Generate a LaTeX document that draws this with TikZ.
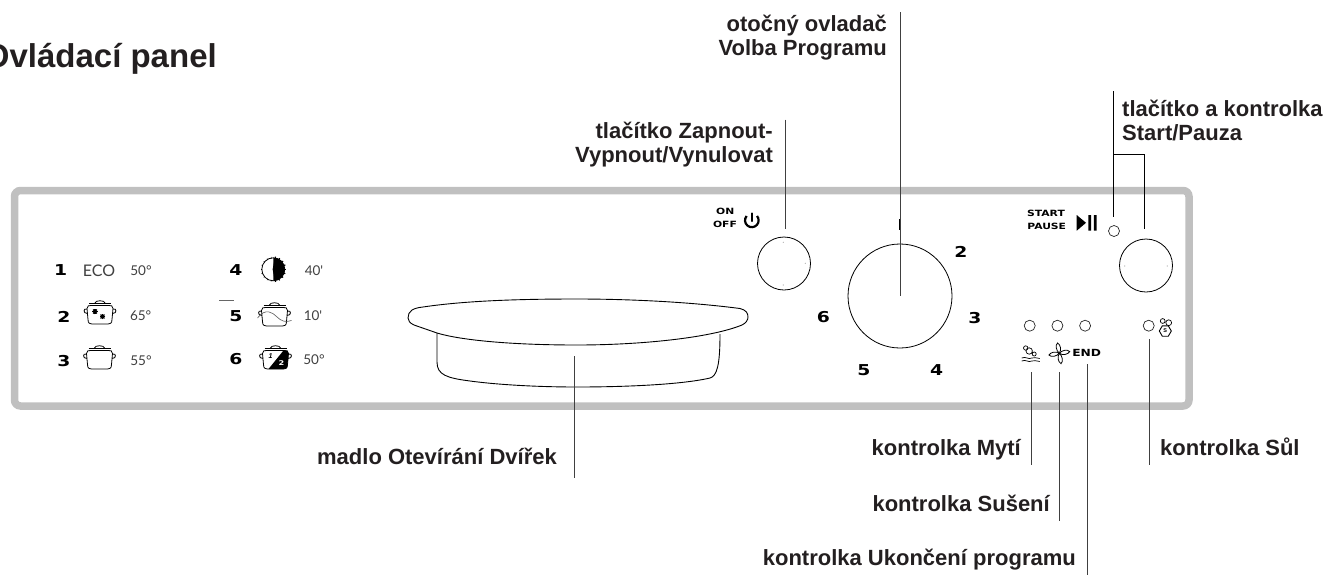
\documentclass[tikz,border=0pt]{standalone}
\usepackage{fontspec}
\usepackage{xcolor}
\setmainfont{Liberation Sans}
\newfontfamily\panelfont[FakeStretch=1.25]{DejaVu Sans}
\newfontfamily\thinfont{Lato}
\usetikzlibrary{calc,positioning,shapes.geometric}
\definecolor{framegray}{HTML}{C0C0C0}
\definecolor{labelink}{HTML}{231F20}

\begin{document}
\begin{tikzpicture}[x=1pt,y=-1pt,
    callout/.style={font=\bfseries\fontsize{22}{24}\selectfont,text=labelink,inner sep=0pt,align=right},
    leader/.style={draw=black!75,line width=0.9pt},
    knob/.style={draw=black,line width=0.8pt,circle,inner sep=0pt,fill=white},
    lamp/.style={draw=black!85,line width=0.7pt,circle,inner sep=0pt,minimum size=11pt},
    digit/.style={font=\panelfont\bfseries\fontsize{15}{15}\selectfont,inner sep=0pt},
    tinycaps/.style={font=\panelfont\bfseries\fontsize{8.6}{9}\selectfont,inner sep=0pt},
    thintext/.style={font=\thinfont\fontsize{13.5}{14}\selectfont,text=black!75,inner sep=0pt},
    icon/.style={line width=0.8pt,black}]

  \useasboundingbox (0,0) rectangle (1332,579);
  \clip (0,0) rectangle (1332,579);

  % Frame
  \draw[framegray,line width=7.5pt,rounded corners=6pt] (14.5,190.5) rectangle (1189,406);
  \node[font=\bfseries\fontsize{33}{36}\selectfont,text=labelink,anchor=base east,inner sep=0pt] (title) at (217,67) {Ovládací panel};

  % Knobs and lamps
  \node[knob,minimum size=53pt] (on-knob) at (784,263.5) {};
  \node[knob,minimum size=104pt] (dial) at (900,296) {};
  \node[knob,minimum size=53pt] (start-knob) at (1146,265.5) {};
  \node[lamp] (start-lamp) at (1114,231) {};
  \node[lamp] (wash-lamp) at (1029.7,325.7) {};
  \node[lamp,right=16pt of wash-lamp] (dry-lamp) {};
  \node[lamp,right=16pt of dry-lamp] (end-lamp) {};
  \node[lamp] (salt-lamp) at (1148.7,325.7) {};
  \fill[black!35] (783.3,242.3) circle (0.6) (805.3,263.3) circle (0.6) (783.3,285) circle (0.6) (1124.7,266) circle (0.6) (1167.3,266) circle (0.6);
  \fill[black] (898.8,219) rectangle (901.2,230);

  % Dial numbers
  \node[digit] (dial-2) at (961,251.7) {2};
  \node[digit] (dial-3) at (975,317.7) {3};
  \node[digit] (dial-4) at (936.7,370) {4};
  \node[digit] (dial-5) at (864,370) {5};
  \node[digit] (dial-6) at (823.3,317) {6};

  % Handle
  \draw[black,line width=0.9pt] (408,318) .. controls (408,311) and (413,308) .. (423,307) .. controls (470,300) and (530,299) .. (577,299) .. controls (630,299) and (690,302) .. (740,308.5) .. controls (746,310) and (748,313) .. (748,317) .. controls (748,320) and (746,323) .. (742,325) .. controls (710,338) and (640,345) .. (577,345) .. controls (510,345) and (460,340) .. (437,333) -- (414,325) .. controls (410,323) and (408,321) .. (408,318) -- cycle;
  \draw[black,line width=0.9pt] (437,333) -- (437,362) .. controls (437,375) and (447,378) .. (470,381) .. controls (500,385) and (540,387) .. (577,387) .. controls (620,387) and (680,385) .. (710,378) .. controls (717,376) and (720,365) .. (720,334);

  % Programmes
  % \pot{<id>}{<pos>}
  \DeclareDocumentCommand \pot { m m }{%
    \begin{scope}[shift={#2},icon]
      \draw (-13,-6) .. controls (-13,-9) and (-11,-9) .. (-9,-9) -- (9,-9) .. controls (11,-9) and (13,-9) .. (13,-6) -- (12,5) .. controls (12,9) and (10,9.5) .. (8,9.5) -- (-8,9.5) .. controls (-10,9.5) and (-12,9) .. (-12,5) -- cycle;
      \draw (13,-5.5) .. controls (17,-6.5) and (17,-1) .. (12.7,-1);
      \draw (-13,-5.5) .. controls (-17,-6.5) and (-17,-1) .. (-12.7,-1);
      \draw (-11,-11.5) -- (11,-11.5);
      \draw (-5,-11.5) .. controls (-5,-14.5) and (5,-14.5) .. (5,-11.5);
      \coordinate (pot-#1) at (0,0);
    \end{scope}
  }
  \node[digit] (num-1) at (60.7,270.5) {1};
  \node[thintext,font=\thinfont\fontsize{16}{16}\selectfont] (eco) at (99,270.7) {ECO};
  \node[thintext] (temp-1) at (141,270.7) {50°};
  \node[digit] (num-2) at (64,316.5) {2};
  \pot{2}{(100,314.5)}
  \node[thintext] (temp-2) at (140.7,316) {65°};
  \node[digit] (num-3) at (64,360.7) {3};
  \pot{3}{(99.5,359.5)}
  \node[thintext] (temp-3) at (141,361) {55°};
  \node[digit] (num-4) at (236,270.5) {4};
  \node[thintext] (time-4) at (314,270.7) {40'};
  \draw[black!60,line width=0.7pt] (219,300) -- (234,300);
  \node[digit] (num-5) at (236,316) {5};
  \pot{5}{(274.5,316.5)}
  \node[thintext] (time-5) at (313,316) {10'};
  \node[digit] (num-6) at (236,359.5) {6};
  \pot{6}{(275.5,359.5)}
  \node[thintext] (temp-6) at (314,360) {50°};

  % Pot details
  \begin{scope}[shift={(pot-2)},black]
    \foreach \a in {0,45,90,135} {
      \draw[line width=1.1pt] (-5,-3)+(\a:2.8) -- +(\a+180:2.8);
      \draw[line width=1.1pt] (2.5,2)+(\a:2.8) -- +(\a+180:2.8);
    }
  \end{scope}
  \draw[black!65,line width=0.6pt] ($(pot-5)+(-17,1.5)$) .. controls ($(pot-5)+(-9,-9)$) and ($(pot-5)+(-2,-4)$) .. ($(pot-5)+(2,0)$) .. controls ($(pot-5)+(7,5)$) and ($(pot-5)+(11,6)$) .. ($(pot-5)+(17,4)$);
  \fill[black] ($(pot-6)+(8,-9)$) -- ($(pot-6)+(9,-9)$) .. controls ($(pot-6)+(11,-9)$) and ($(pot-6)+(13,-9)$) .. ($(pot-6)+(13,-6)$) -- ($(pot-6)+(12,5)$) .. controls ($(pot-6)+(12,9)$) and ($(pot-6)+(10,9.5)$) .. ($(pot-6)+(8,9.5)$) -- ($(pot-6)+(-7,9.5)$) -- cycle;
  \path (pot-6) +(-5,-3) node[font=\bfseries\itshape\fontsize{7}{7}\selectfont,inner sep=0pt] (pot-6-one) {1};
  \path (pot-6) +(6,3.5) node[font=\panelfont\bfseries\fontsize{6.5}{7}\selectfont,text=white,inner sep=0pt] (pot-6-two) {2};

  % Clock
  \draw[black,line width=0.8pt] (273.3,269.3) circle (11.5);
  \fill[black] (273.3,257.8) arc (-90:90:11.5) -- cycle;
  \foreach \a in {-80,-60,...,80} {
    \draw[black,line width=1.2pt] (273.3,269.3) -- +(\a:12.8);
  }
  \foreach \a in {100,120,...,260} {
    \draw[black,line width=0.5pt] (273.3,269.3) ++(\a:11) -- ++(\a:1.5);
  }

  % Start and on/off marks
  \node[tinycaps] (on-text) at (725.3,211) {ON};
  \node[tinycaps] (off-text) at (725,224.3) {OFF};
  \draw[black,line width=2.2pt,line cap=round] (751.7,213.5) -- (751.7,221);
  \draw[black,line width=2.2pt] (746.6,216) arc (220:-40:6.8);
  \node[tinycaps] (start-text) at (1046,213.3) {START};
  \node[tinycaps] (pause-text) at (1046.7,226.7) {PAUSE};
  \fill[black] (1076.7,215) -- (1086,222.8) -- (1076.7,230.7) -- cycle;
  \fill[black] (1088.3,215) rectangle (1091,230.7) (1093.8,215) rectangle (1096.7,230.7);

  % Lamp icons
  \begin{scope}[shift={(1030.7,353)},black,line width=0.7pt]
    \draw (-5,-5) circle (2.2) (-1.5,-2) circle (3.2) (3.5,1) circle (2);
    \draw (-9,5) .. controls (-5,3) and (-2,7) .. (1,5) .. controls (3,4) and (6,5) .. (9,5.5);
    \draw (-9,8) .. controls (-5,6) and (-2,10) .. (1,8) .. controls (3,7) and (6,8) .. (9,8.5);
  \end{scope}
  \begin{scope}[shift={(1059.3,353.3)},black,line width=0.8pt]
    \foreach \a in {12,102,192,282} {
      \draw[rotate=\a,fill=white] (0,0) .. controls (3,-3) and (3,-8) .. (0.5,-10.5) .. controls (-2.5,-9) and (-2.5,-3) .. (0,0);
    }
  \end{scope}
  \node[tinycaps,font=\panelfont\bfseries\fontsize{9.8}{10}\selectfont] (end-text) at (1086.7,352.7) {END};
  \node[draw=black,line width=0.9pt,regular polygon,regular polygon sides=6,minimum size=12pt,inner sep=0pt,font=\bfseries\fontsize{5.5}{6}\selectfont] (salt-hex) at (1165.3,331) {S};
  \draw[black,line width=0.7pt] (1162.7,321) circle (2.4) (1168.7,322.7) circle (2.9);

  % Top labels
  \node[callout,anchor=base east] (dial-label) at (887,55) {otočný ovladač\\Volba Programu};
  \node[callout,anchor=base east] (on-label) at (773,162) {tlačítko Zapnout-\\Vypnout/Vynulovat};
  \node[callout,anchor=base west,align=left] (start-label) at (1122,140) {tlačítko a kontrolka\\Start/Pauza};
  \path (dial.center) +(0,-284) coordinate (dial-top);
  \path (on-knob.north) +(1,-117) coordinate (on-top);
  \path (on-knob.north) +(1,-8) coordinate (on-end);
  \path (start-lamp.north) +(-0.5,-134) coordinate (start-top);
  \path (start-lamp.north) +(-0.5,-8) coordinate (start-end);
  \path (start-knob.north) +(-2,-84) coordinate (start-corner);
  \path (start-knob.north) +(-2,-10) coordinate (knob-end);
  \draw[leader] (dial-top) -- (dial.center);
  \draw[leader] (on-top) -- (on-end);
  \draw[leader,line width=0.7pt,black] (start-top) -- (start-end);
  \draw[leader,line width=0.7pt,black] (start-top |- start-corner) -- (start-corner) -- (knob-end);

  % Bottom labels
  \node[callout,anchor=base east] (handle-label) at (557,464) {madlo Otevírání Dvířek};
  \node[callout,anchor=base east] (wash-label) at (1021,455) {kontrolka Mytí};
  \node[callout,anchor=base east] (dry-label) at (1050,511) {kontrolka Sušení};
  \node[callout,anchor=base east] (end-label) at (1076,565) {kontrolka Ukončení programu};
  \node[callout,anchor=base west] (salt-label) at (1160,455) {kontrolka Sůl};
  \coordinate (handle-top) at (574,356);
  \coordinate (handle-end) at (574,478);
  \coordinate (wash-top) at (1031,372);
  \coordinate (wash-end) at (1031,465);
  \coordinate (dry-top) at (1059.5,372);
  \coordinate (dry-end) at (1059.5,521);
  \coordinate (end-top) at (1087.3,364);
  \coordinate (end-end) at (1087.3,575);
  \coordinate (salt-top) at (1149,339);
  \coordinate (salt-end) at (1149,465);
  \draw[leader] (handle-top) -- (handle-end);
  \draw[leader] (wash-top) -- (wash-end);
  \draw[leader] (dry-top) -- (dry-end);
  \draw[leader] (end-top) -- (end-end);
  \draw[leader] (salt-top) -- (salt-end);

\end{tikzpicture}
\end{document}
